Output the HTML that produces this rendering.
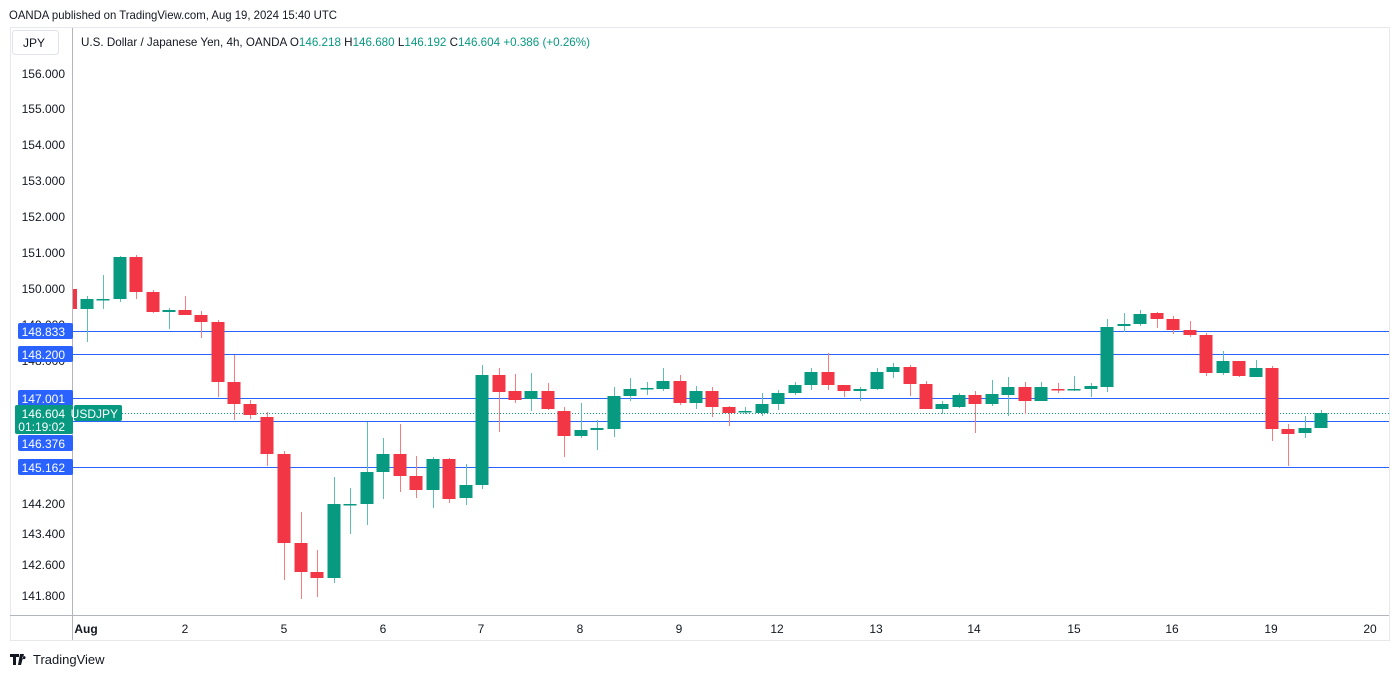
<!DOCTYPE html>
<html><head><meta charset="utf-8"><style>
html,body{margin:0;padding:0;background:#fff;width:1400px;height:676px;overflow:hidden;font-family:"Liberation Sans",sans-serif}
svg{position:absolute;left:0;top:0}
</style></head><body>
<svg id="s" width="1400" height="676" xmlns="http://www.w3.org/2000/svg" font-family="Liberation Sans, sans-serif">
<text x="9" y="19" font-size="12" fill="#131722" textLength="328" lengthAdjust="spacingAndGlyphs">OANDA published on TradingView.com, Aug 19, 2024 15:40 UTC</text>
<rect x="10.5" y="27.5" width="1379" height="613" fill="#fff" stroke="#e6e8ee"/>
<line x1="72.5" y1="28" x2="72.5" y2="640" stroke="#b2b5be"/>
<line x1="10" y1="615.5" x2="1389" y2="615.5" stroke="#b2b5be"/>
<rect x="12.5" y="30.5" width="46" height="24" rx="3" fill="#fff" stroke="#e0e3eb"/>
<text x="23" y="47" font-size="12" fill="#131722">JPY</text>
<text x="81" y="46" font-size="12" fill="#131722" textLength="509" lengthAdjust="spacingAndGlyphs">U.S. Dollar / Japanese Yen, 4h, OANDA  O<tspan fill="#089981">146.218</tspan>  H<tspan fill="#089981">146.680</tspan>  L<tspan fill="#089981">146.192</tspan>  C<tspan fill="#089981">146.604</tspan>  <tspan fill="#089981">+0.386 (+0.26%)</tspan></text>
<g font-size="12" fill="#131722" text-anchor="end">
<text x="65" y="78">156.000</text><text x="65" y="113">155.000</text><text x="65" y="149">154.000</text><text x="65" y="185">153.000</text><text x="65" y="221">152.000</text><text x="65" y="257">151.000</text><text x="65" y="293">150.000</text><text x="65" y="329">149.000</text><text x="65" y="365">148.000</text><text x="65" y="472">145.000</text><text x="65" y="508">144.200</text><text x="65" y="538">143.400</text><text x="65" y="569">142.600</text><text x="65" y="600">141.800</text>
</g>
<g font-size="12" fill="#131722" text-anchor="middle">
<text x="86" y="633" font-weight="bold">Aug</text><text x="185" y="633">2</text><text x="284" y="633">5</text><text x="383" y="633">6</text><text x="481" y="633">7</text><text x="580" y="633">8</text><text x="679" y="633">9</text><text x="777" y="633">12</text><text x="876" y="633">13</text><text x="974" y="633">14</text><text x="1074" y="633">15</text><text x="1172" y="633">16</text><text x="1271" y="633">19</text><text x="1370" y="633">20</text>
</g>
<g stroke="#2962ff" stroke-width="1">
<line x1="73" y1="331.5" x2="1389" y2="331.5"/><line x1="73" y1="354.5" x2="1389" y2="354.5"/><line x1="73" y1="398.5" x2="1389" y2="398.5"/><line x1="73" y1="421.5" x2="1389" y2="421.5"/><line x1="73" y1="467.5" x2="1389" y2="467.5"/>
</g>
<line x1="122" y1="413.5" x2="1389" y2="413.5" stroke="#089981" stroke-dasharray="1,2"/>
<g id="c"></g>
<g font-size="12" fill="#fff" text-anchor="end">
<rect x="18" y="323" width="55" height="16" rx="2" fill="#2962ff"/><text x="65" y="336">148.833</text>
<rect x="18" y="346" width="55" height="16" rx="2" fill="#2962ff"/><text x="65" y="359">148.200</text>
<rect x="18" y="390" width="55" height="16" rx="2" fill="#2962ff"/><text x="65" y="403">147.001</text>
<rect x="18" y="435" width="55" height="16" rx="2" fill="#2962ff"/><text x="65" y="448">146.376</text>
<rect x="18" y="459" width="55" height="16" rx="2" fill="#2962ff"/><text x="65" y="472">145.162</text>
<rect x="15" y="405" width="58" height="29" rx="2" fill="#089981"/><text x="65" y="418">146.604</text><text x="65" y="431">01:19:02</text>
<rect x="74" y="405" width="48" height="16" rx="2" fill="#089981"/><text x="118" y="418">USDJPY</text>
</g>
<g transform="translate(10,654)"><path d="M0 0h9v3h-3v8h-3v-8h-3z M10 0h4l-3 11h-3z M14 2a1.6 1.6 0 1 0 0.01 0" fill="#131722"/></g>
<text x="33" y="664" font-size="13" fill="#131722">TradingView</text>
</svg>
<script>
var d=[[74,289,289,309,309,1],[87,309,296,342,299],[103,300,275,309,299],[120,299,256,302,257],[136,257,255,299,292],[153,292,290,313,312],[169,312,308,329,310],[185,310,296,315,315],[201,315,311,338,322],[218,322,320,397,382],[234,382,355,420,404],[250,404,400,419,415],[267,417,412,466,454],[284,454,451,580,543],[301,543,512,599,572],[317,572,550,597,578],[334,578,477,583,504],[350,504,488,534,504],[367,504,422,525,472],[383,472,438,499,454],[400,454,424,492,476],[416,476,456,498,490],[433,490,457,508,459],[449,459,458,503,499],[466,498,464,505,485],[482,485,365,489,375],[499,375,368,432,392],[515,391,374,403,400],[531,399,373,411,391],[548,391,383,410,409],[564,411,407,457,436],[581,436,403,438,430],[597,430,420,450,428],[614,429,387,437,396],[630,396,378,401,389],[647,389,382,395,388],[663,389,368,391,381],[680,381,375,405,403],[696,403,386,409,391],[712,391,387,417,407],[729,407,406,426,413],[745,412,407,414,411],[762,413,393,416,404],[778,404,390,410,393],[795,393,382,395,385],[811,385,368,390,372],[828,372,353,390,385],[844,385,385,397,391],[860,391,387,401,389],[877,389,368,390,372],[893,372,363,378,367],[910,367,365,396,384],[926,384,381,409,409],[942,409,401,414,404],[959,407,393,408,395],[975,395,391,433,404],[992,404,380,406,394],[1008,395,377,416,387],[1025,387,382,414,401],[1041,401,382,401,387],[1058,389,383,393,390],[1074,390,376,391,389],[1091,389,383,397,386],[1107,387,319,392,327],[1124,326,313,332,324],[1140,324,310,326,314],[1157,313,312,328,319],[1173,319,316,334,330],[1190,330,321,337,335],[1206,335,333,376,373],[1223,373,351,375,361],[1239,361,361,377,376],[1256,377,360,377,368],[1272,368,366,441,429],[1288,429,424,466,434],[1305,433,416,438,428],[1321,428,410,428,413]];
var g=document.getElementById('c'),h='';
d.forEach(function(c){var x=c[0],o=c[1],hi=c[2],lo=c[3],cl=c[4];var red=cl>o;var col=red?'#f23645':'#089981';var wc=red?'#f77c80':'#5fbfae';
var top=Math.min(o,cl),bh=Math.max(1.5,Math.abs(o-cl));var w=13,lx=x-6.5;if(c[5]){lx=73;w=4;}
h+='<line x1="'+(x+0.5)+'" y1="'+hi+'" x2="'+(x+0.5)+'" y2="'+lo+'" stroke="'+wc+'" stroke-width="1"/>';
h+='<rect x="'+lx+'" y="'+top+'" width="'+w+'" height="'+bh+'" fill="'+col+'"/>';});
g.innerHTML=h;
</script>
</body></html>
